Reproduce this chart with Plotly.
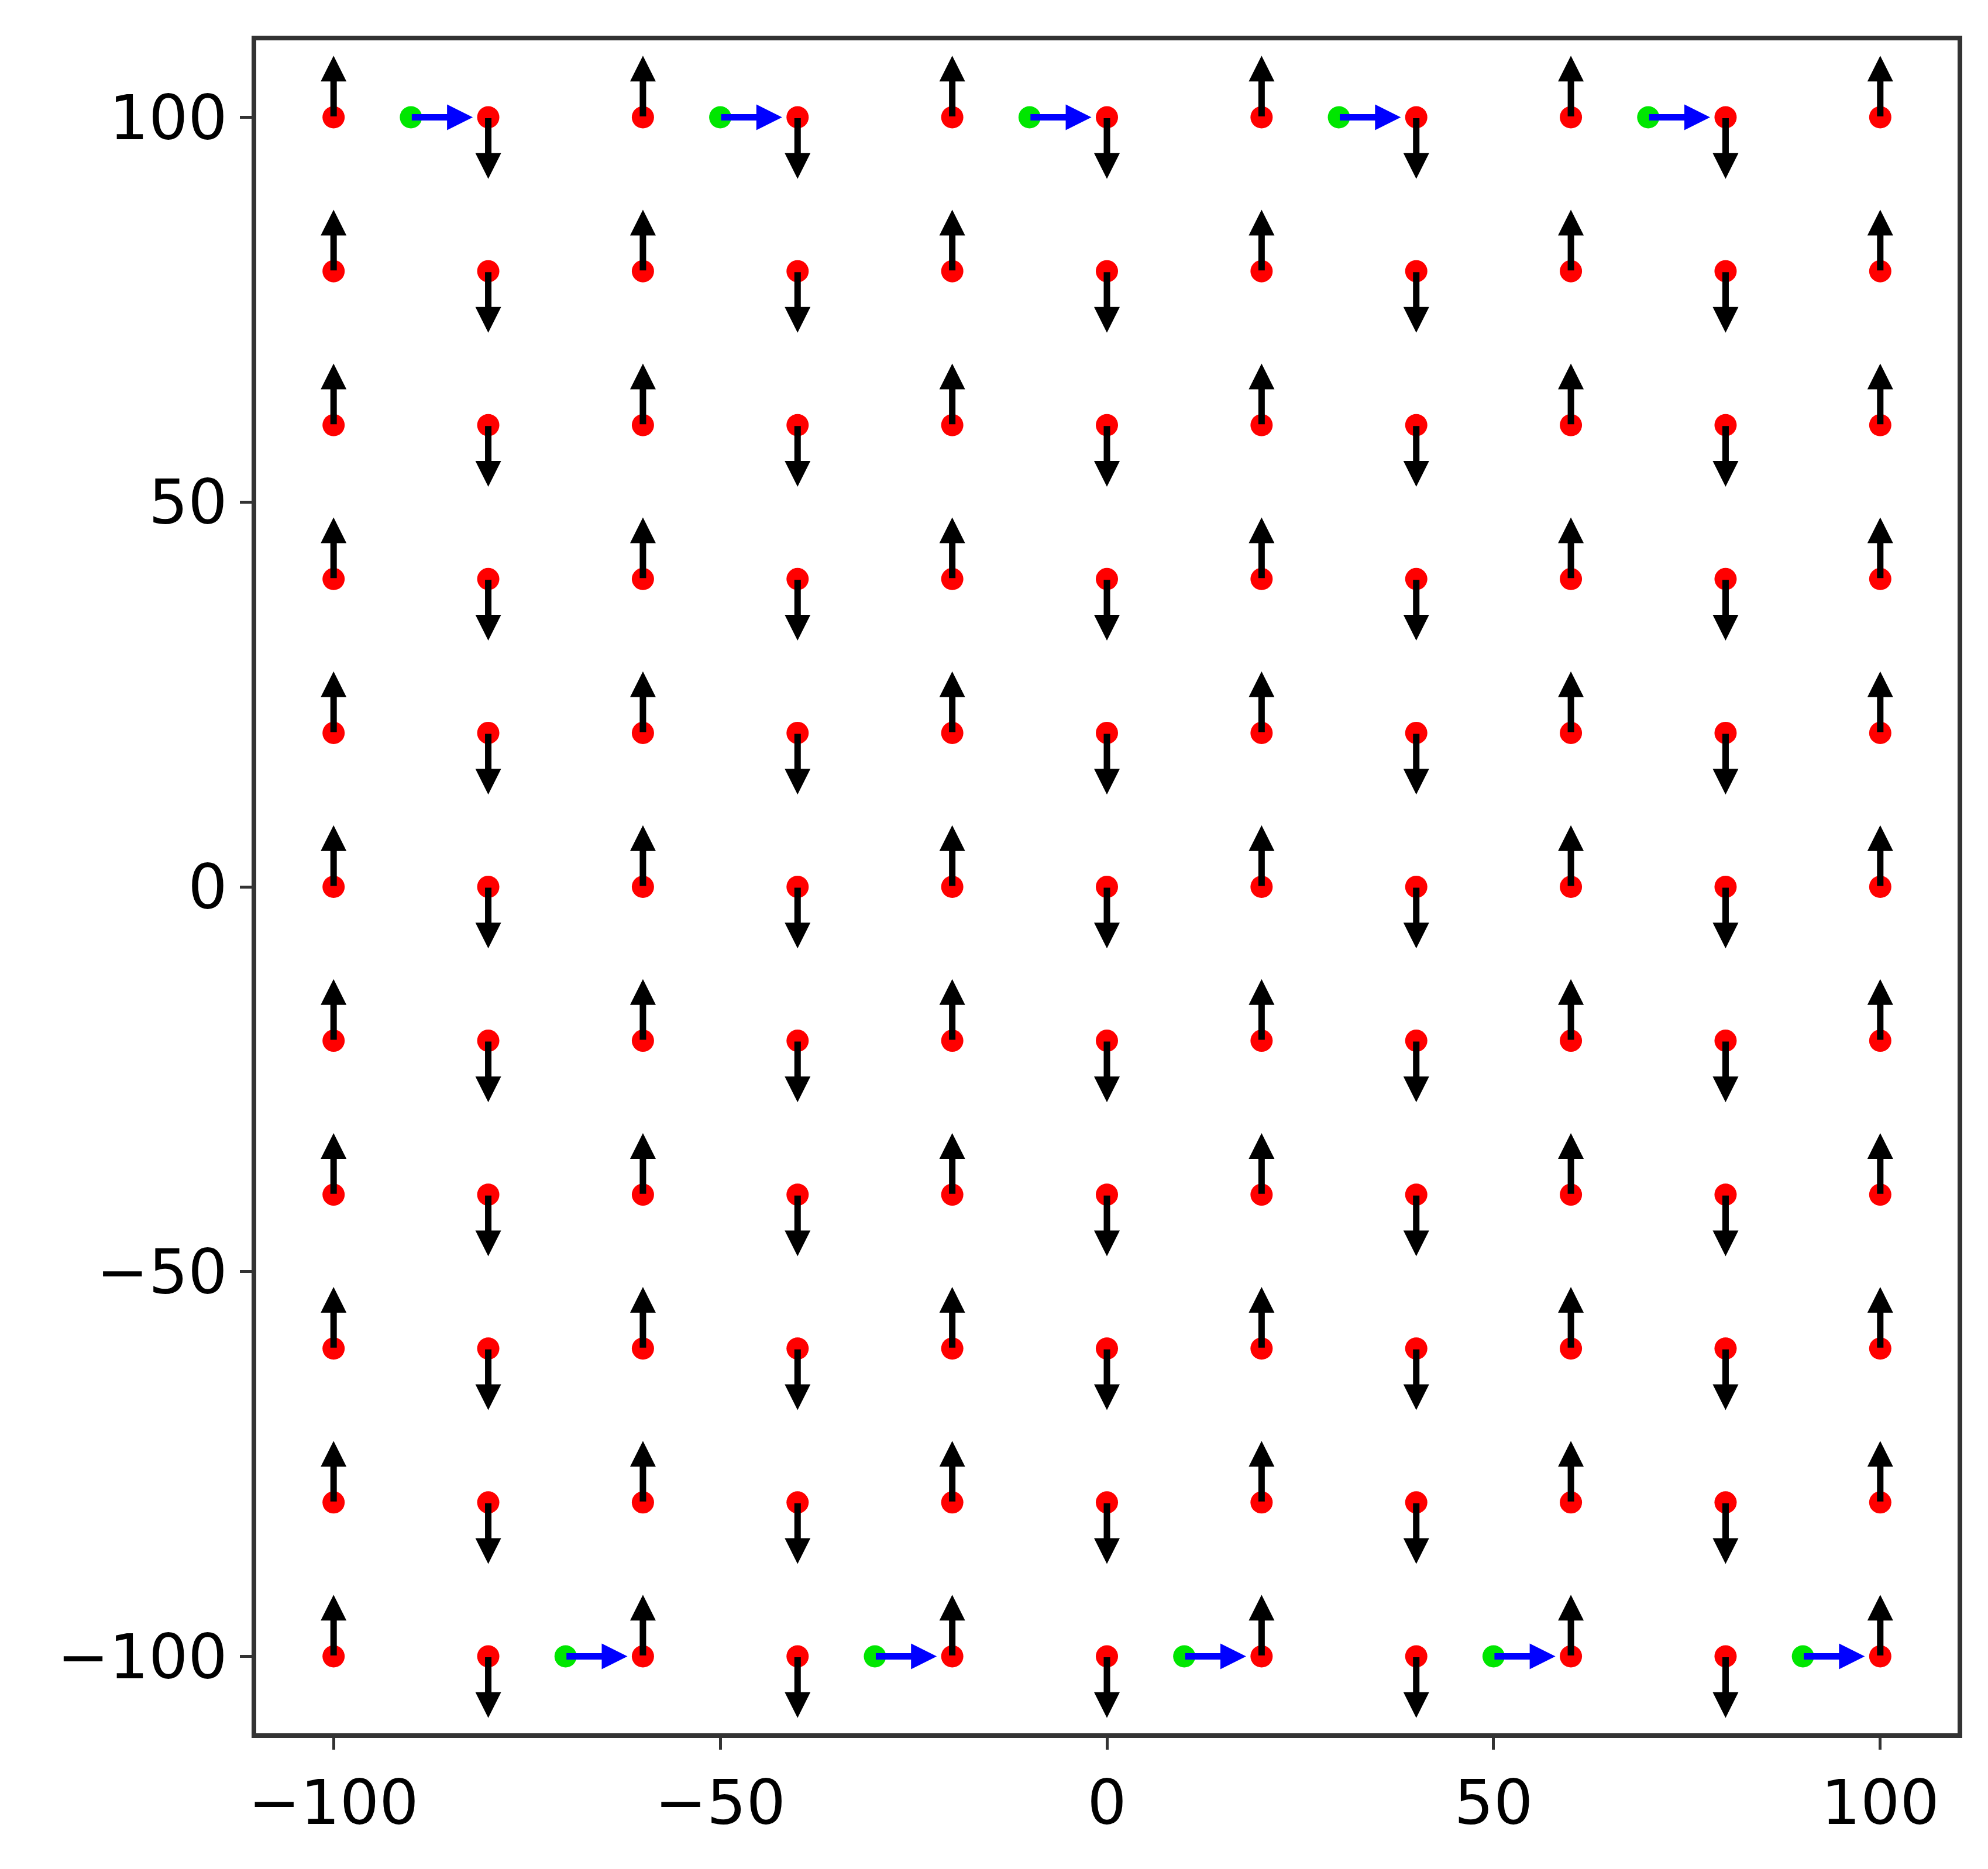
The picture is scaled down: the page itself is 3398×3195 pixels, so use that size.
import plotly.graph_objects as go

# grid of red points
grid_x = [-100, -80, -60, -40, -20, 0, 20, 40, 60, 80, 100]
grid_y = [-100, -80, -60, -40, -20, 0, 20, 40, 60, 80, 100]
# vertical arrow direction per column (+1 up, -1 down)
col_dir = [1, -1, 1, -1, 1, -1, 1, -1, 1, -1, 1]
arrow_len = 8

# green points with blue arrows pointing right
green_x = [-90, -50, -10, 30, 70, -70, -30, 10, 50, 90]
green_y = [100, 100, 100, 100, 100, -100, -100, -100, -100, -100]

fig = go.Figure()

annotations = []
for gx, d in zip(grid_x, col_dir):
    for gy in grid_y:
        annotations.append(dict(
            x=gx, y=gy + d * arrow_len, ax=gx, ay=gy,
            xref="x", yref="y", axref="x", ayref="y",
            showarrow=True, arrowhead=2, arrowsize=0.8, arrowwidth=11,
            arrowcolor="black", text=""))
for gx, gy in zip(green_x, green_y):
    annotations.append(dict(
        x=gx + arrow_len, y=gy, ax=gx, ay=gy,
        xref="x", yref="y", axref="x", ayref="y",
        showarrow=True, arrowhead=2, arrowsize=0.8, arrowwidth=11,
        arrowcolor="blue", text=""))

px_ = [x for x in grid_x for _ in grid_y]
py_ = [y for _ in grid_x for y in grid_y]
fig.add_trace(go.Scatter(x=px_, y=py_, mode="markers",
                         marker=dict(color="red", size=38, line_width=0)))
fig.add_trace(go.Scatter(x=green_x, y=green_y, mode="markers",
                         marker=dict(color="#00e600", size=38, line_width=0)))

axis = dict(range=[-110, 110], showgrid=False, zeroline=False,
            showline=True, linecolor="#333333", linewidth=8, mirror=True,
            ticks="outside", ticklen=20, tickwidth=5, tickcolor="#333333",
            tickvals=[-100, -50, 0, 50, 100],
            ticktext=["\u2212100", "\u221250", "0", "50", "100"],
            tickfont=dict(family="DejaVu Sans", size=106, color="black"))

fig.update_layout(
    width=3398, height=3195, showlegend=False,
    paper_bgcolor="white", plot_bgcolor="white",
    margin=dict(l=430, r=60, t=61, b=240),
    xaxis=axis, yaxis=axis, annotations=annotations)

fig.write_html("out.html")
